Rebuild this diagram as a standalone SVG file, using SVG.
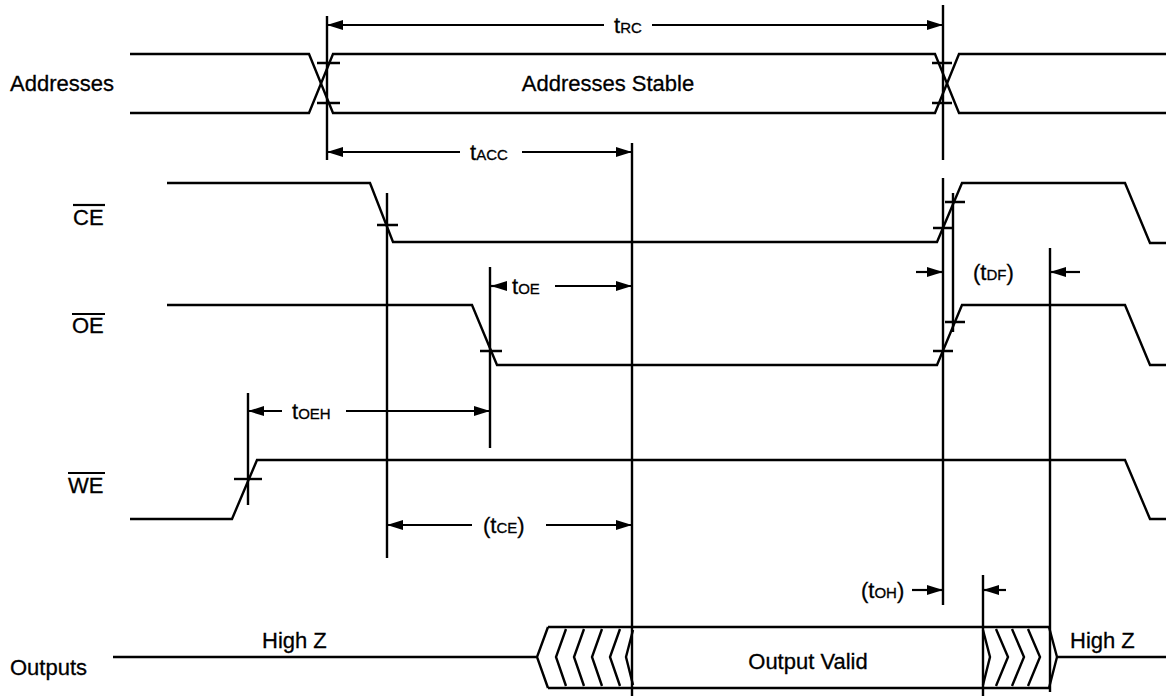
<svg xmlns="http://www.w3.org/2000/svg" width="1166" height="696" viewBox="0 0 1166 696">
<defs>
<marker id="ah" markerUnits="userSpaceOnUse" markerWidth="17" markerHeight="11" refX="16" refY="5.5" orient="auto-start-reverse">
<path d="M0,0.5 L16,5.5 L0,10.5 z" fill="#000"/>
</marker>
</defs>
<style>
.w{fill:none;stroke:#000;stroke-width:2.4;stroke-linejoin:miter}
.v{fill:none;stroke:#000;stroke-width:2.4}
.d{fill:none;stroke:#000;stroke-width:2.2}
.t{font-family:"Liberation Sans",Arial,sans-serif;font-size:22px;fill:#000;stroke:#000;stroke-width:0.3}
.s{font-size:15px}
</style>
<rect width="1166" height="696" fill="#fff"/>

<g id="labels">
<text class="t" x="10" y="91">Addresses</text>
<text class="t" x="73" y="225">CE</text>
<line class="d" x1="73" y1="205" x2="105" y2="205"/>
<text class="t" x="72" y="333">OE</text>
<line class="d" x1="72" y1="314" x2="105" y2="314"/>
<text class="t" x="68" y="493">WE</text>
<line class="d" x1="68" y1="473" x2="105" y2="473"/>
<text class="t" x="10" y="675">Outputs</text>
</g>

<g id="addresses">
<path class="w" d="M130,54 L309,54 L333,113 L935,113 L959,54 L1166,54"/>
<path class="w" d="M130,113 L309,113 L333,54 L935,54 L959,113 L1166,113"/>
<path class="v" d="M317,63 H340 M317,103 H340 M932,63 H952 M932,103 H952"/>
<text class="t" x="608" y="91" text-anchor="middle">Addresses Stable</text>
</g>

<g id="ce">
<path class="w" d="M167,183 L370,183 L393,242 L937,242 L962,183 L1125,183 L1150,243 L1166,243"/>
<path class="v" d="M377,225 H398 M933,228 H953 M945,202 H965"/>
</g>

<g id="oe">
<path class="w" d="M167,305 L472,305 L497,365 L937,365 L962,305 L1125,305 L1150,365 L1166,365"/>
<path class="v" d="M480,351 H502 M933,351 H953 M945,322 H965"/>
</g>

<g id="we">
<path class="w" d="M130,519 L232,519 L257,460 L1125,460 L1150,519 L1166,519"/>
<path class="v" d="M234,479 H262"/>
</g>

<g id="outputs">
<path class="w" d="M113,657 L537,657 M548,627 L537,657 L548,688 M548,627 L1049,627 M548,688 L1049,688"/>
<path class="w" d="M566,629 L556,657 L566,686 M584,629 L574,657 L584,686 M602,629 L592,657 L602,686 M620,629 L610,657 L620,686 M633,630 L626,657 L633,685"/>
<path class="w" d="M983,630 L990,657 L983,685 M996,629 L1008,657 L996,686 M1012,629 L1024,657 L1012,686 M1028,629 L1040,657 L1028,686 M1049,627 L1057,657 L1049,688 M1057,657 L1166,657"/>
<text class="t" x="262" y="648">High Z</text>
<text class="t" x="808" y="669" text-anchor="middle">Output Valid</text>
<text class="t" x="1070" y="648">High Z</text>
</g>

<g id="connectors">
<path class="v" d="M327,16 V160 M943,5 V160 M943,178 V605 M953,193 V332 M387,193 V558 M490,267 V448 M632,143 V696 M248,393 V505 M983,575 V696 M1050,248 V692"/>
<line class="d" x1="327" y1="25" x2="604" y2="25" marker-start="url(#ah)"/>
<line class="d" x1="652" y1="25" x2="943" y2="25" marker-end="url(#ah)"/>
<line class="d" x1="327" y1="152" x2="460" y2="152" marker-start="url(#ah)"/>
<line class="d" x1="522" y1="152" x2="632" y2="152" marker-end="url(#ah)"/>
<line class="d" x1="491" y1="286" x2="505" y2="286" marker-start="url(#ah)"/>
<line class="d" x1="555" y1="286" x2="632" y2="286" marker-end="url(#ah)"/>
<line class="d" x1="248" y1="411" x2="282" y2="411" marker-start="url(#ah)"/>
<line class="d" x1="346" y1="411" x2="490" y2="411" marker-end="url(#ah)"/>
<line class="d" x1="387" y1="525" x2="472" y2="525" marker-start="url(#ah)"/>
<line class="d" x1="546" y1="525" x2="632" y2="525" marker-end="url(#ah)"/>
<line class="d" x1="916" y1="272" x2="943" y2="272" marker-end="url(#ah)"/>
<line class="d" x1="1080" y1="272" x2="1050" y2="272" marker-end="url(#ah)"/>
<line class="d" x1="912" y1="590" x2="943" y2="590" marker-end="url(#ah)"/>
<line class="d" x1="1006" y1="590" x2="983" y2="590" marker-end="url(#ah)"/>
<text class="t" x="614" y="33">t<tspan class="s">RC</tspan></text>
<text class="t" x="470" y="160">t<tspan class="s">ACC</tspan></text>
<text class="t" x="512" y="294">t<tspan class="s">OE</tspan></text>
<text class="t" x="292" y="419">t<tspan class="s">OEH</tspan></text>
<text class="t" x="483" y="533">(t<tspan class="s">CE</tspan>)</text>
<text class="t" x="973" y="280">(t<tspan class="s">DF</tspan>)</text>
<text class="t" x="861" y="598">(t<tspan class="s">OH</tspan>)</text>
</g>
</svg>
